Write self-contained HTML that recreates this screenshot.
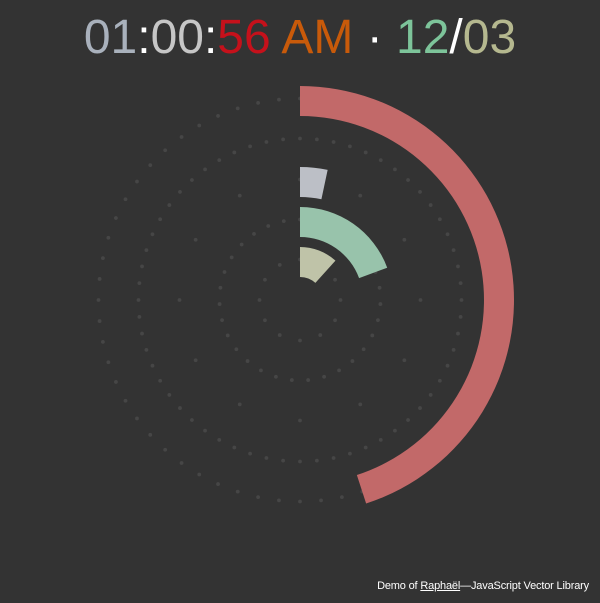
<!DOCTYPE html>
<html><head><meta charset="utf-8"><style>
html,body{margin:0;padding:0;background:#333;width:600px;height:603px;overflow:hidden}
#title{position:absolute;top:12px;left:0;width:600px;text-align:center;font:48px "Liberation Sans",sans-serif;line-height:52px}
#foot{position:absolute;right:11px;top:580px;font:11px "Liberation Sans",sans-serif;color:#fff;letter-spacing:-0.17px}
#foot a{color:#fff}
svg{position:absolute;left:0;top:0}
</style></head><body>
<div id="title"><span style="color:#a9b1bc">01</span><span style="color:#fff">:</span><span style="color:#c6c6c6">00</span><span style="color:#fff">:</span><span style="color:#c5111b">56</span><span style="color:#c85a0a"> AM</span><span style="color:#fff"> · </span><span style="color:#7dc49a">12</span><span style="color:#fff">/</span><span style="color:#b5b88f">03</span></div>
<svg id="chart" width="600" height="603"></svg>
<div id="foot">Demo of <a href="#">Raphaël</a>—JavaScript Vector Library</div>
<script>
const ringNames = ["seconds","minutes","hours","day","month"];
const ringRadii = [199, 159, 118, 78, 38];
const ringDots = [60, 60, 12, 31, 12];
const ringValues = [27, 0, 1, 6, 1.4];
const ringMax = [60, 60, 30, 31, 12];
const ringColors = ["#c26969","#9e9e9e","#bcbfc6","#98c3ab","#bfc3a8"];
const cx = 300, cy = 300, w = 30;
const svg = document.getElementById('chart');
const NS = 'http://www.w3.org/2000/svg';
function pt(r, a){ const t = a*Math.PI/180; return [cx + r*Math.sin(t), cy - r*Math.cos(t)]; }
for (let i=0;i<ringRadii.length;i++){
  const dr = ringRadii[i] + 2.5;
  for (let k=0;k<ringDots[i];k++){
    const p = pt(dr, 360*k/ringDots[i]);
    const c = document.createElementNS(NS,'circle');
    c.setAttribute('cx',p[0]);c.setAttribute('cy',p[1]);c.setAttribute('r',1.9);c.setAttribute('fill','#464646');
    
    
    svg.appendChild(c);
  }
}
for (let i=0;i<ringRadii.length;i++){
  const ang = 360*ringValues[i]/ringMax[i];
  if (ang <= 0) continue;
  const r1 = ringRadii[i]+w/2, r0 = ringRadii[i]-w/2;
  const a = pt(r1,0), b = pt(r1,ang), c2 = pt(r0,ang), d = pt(r0,0);
  const large = ang>180?1:0;
  const path = document.createElementNS(NS,'path');
  path.setAttribute('d',`M${a[0]},${a[1]} A${r1},${r1} 0 ${large} 1 ${b[0]},${b[1]} L${c2[0]},${c2[1]} A${r0},${r0} 0 ${large} 0 ${d[0]},${d[1]} Z`);
  path.setAttribute('fill',ringColors[i]);
  
  
  svg.appendChild(path);
}
</script>
</body></html>
